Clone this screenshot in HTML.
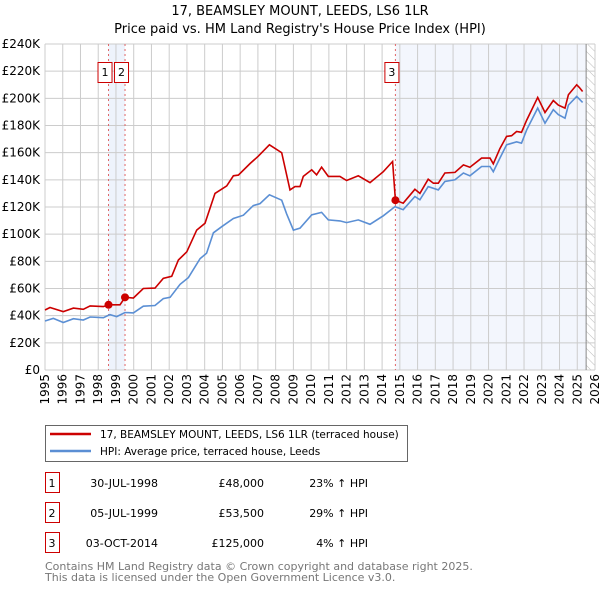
<!DOCTYPE html>
<html><head><meta charset="utf-8"><style>
body{margin:0;background:#fff;font-family:"DejaVu Sans","Liberation Sans",sans-serif;}
svg text{font-family:"DejaVu Sans","Liberation Sans",sans-serif;}
</style></head><body>
<svg id="chart" width="600" height="590" viewBox="0 0 600 590" xmlns="http://www.w3.org/2000/svg">
<defs><pattern id="hatch" width="6" height="6" patternUnits="userSpaceOnUse" patternTransform="rotate(-45)"><line x1="0" y1="0" x2="0" y2="6" stroke="#bbb" stroke-width="1"/></pattern></defs>
<text x="300" y="15" text-anchor="middle" font-size="13">17, BEAMSLEY MOUNT, LEEDS, LS6 1LR</text>
<text x="300" y="33" text-anchor="middle" font-size="13">Price paid vs. HM Land Registry's House Price Index (HPI)</text>
<g id="plot"></g>
<g>
<rect x="45.5" y="425.5" width="362" height="36" fill="#fff" stroke="#666"/>
<line x1="50" y1="434" x2="91" y2="434" stroke="#cc0000" stroke-width="2.5"/>
<text x="100" y="438" font-size="10.5">17, BEAMSLEY MOUNT, LEEDS, LS6 1LR (terraced house)</text>
<line x1="50" y1="451" x2="91" y2="451" stroke="#5b8fd4" stroke-width="2.5"/>
<text x="100" y="455" font-size="10.5">HPI: Average price, terraced house, Leeds</text>
</g>
<g id="table" font-size="11"></g>
<text x="45" y="570" font-size="11" fill="#777">Contains HM Land Registry data © Crown copyright and database right 2025.</text>
<text x="45" y="581" font-size="11" fill="#777">This data is licensed under the Open Government Licence v3.0.</text>
</svg>
<script>
const yTicks=[0,20,40,60,80,100,120,140,160,180,200,220,240];
const yTickLabels=["£0","£20K","£40K","£60K","£80K","£100K","£120K","£140K","£160K","£180K","£200K","£220K","£240K"];
const xYears=[1995,1996,1997,1998,1999,2000,2001,2002,2003,2004,2005,2006,2007,2008,2009,2010,2011,2012,2013,2014,2015,2016,2017,2018,2019,2020,2021,2022,2023,2024,2025,2026];
const hpiYears=[1995.0,1995.47,1996.03,1996.6,1997.16,1997.54,1998.29,1998.66,1999.04,1999.51,1999.98,2000.54,2001.2,2001.67,2002.05,2002.61,2003.08,2003.74,2004.11,2004.49,2004.96,2005.62,2006.18,2006.74,2007.12,2007.65,2008.34,2008.62,2009.0,2009.37,2010.03,2010.59,2010.97,2011.62,2012.0,2012.66,2013.32,2014.07,2014.73,2015.19,2015.85,2016.13,2016.6,2017.17,2017.54,2018.11,2018.58,2018.95,2019.61,2020.08,2020.27,2020.64,2021.02,2021.58,2021.86,2022.15,2022.77,2023.18,2023.65,2023.93,2024.31,2024.5,2024.97,2025.3];
const hpiValues=[36.1,38,35,37.8,36.8,39,38.5,40.8,39.3,42.3,42,47,47.5,52.6,53.5,63,68,82,86,101,105.5,111.5,114,121,122.5,129,125,115,103,104.4,114.2,116,110.5,109.8,108.5,110.5,107.3,113.5,120.3,118,127.7,125.3,135,132.6,138.8,140,145,143,149.8,149.8,146,156,165.8,168,167,176.8,192.8,181.7,191.6,188,185.4,195,201.4,197];
const priceYears=[1995.0,1995.28,1996.03,1996.6,1997.16,1997.54,1998.29,1998.58,1999.23,1999.51,1999.98,2000.54,2001.2,2001.67,2002.14,2002.52,2002.99,2003.55,2004.02,2004.58,2005.24,2005.62,2005.9,2006.56,2007.03,2007.65,2008.34,2008.81,2009.09,2009.37,2009.56,2010.03,2010.31,2010.59,2010.97,2011.62,2012.0,2012.66,2013.32,2014.07,2014.59,2014.75,2015.19,2015.85,2016.13,2016.6,2016.89,2017.17,2017.54,2018.11,2018.58,2018.95,2019.61,2020.08,2020.27,2020.64,2021.02,2021.3,2021.58,2021.86,2022.15,2022.77,2023.18,2023.65,2023.93,2024.31,2024.5,2024.97,2025.12,2025.3];
const priceValues=[44.2,46,43,45.6,44.7,47.2,46.7,48,48,53.5,53,60,60.3,67.5,69,81,87,103,108,130,135.5,143,143.5,152,157.5,165.8,160,132.6,135,135,142.5,147.4,143.7,149.3,142.5,142.5,139.5,143,138,146,153.5,125,122.8,133,130,140.5,137.5,137.5,145,145.5,151,149.3,156,156,151.8,163,172,172.5,175.6,175,184,200.7,189.6,198.4,195,192.8,202.6,210,208,205];
const saleYears=[1998.58,1999.51,2014.75];
const saleValues=[48,53.5,125];
const saleLabels=["1","2","3"];
const saleDates=["30-JUL-1998","05-JUL-1999","03-OCT-2014"];
const salePrices=["£48,000","£53,500","£125,000"];
const saleHpi=["23% ↑ HPI","29% ↑ HPI","4% ↑ HPI"];
const dataEndYear=2025.5;

const NS="http://www.w3.org/2000/svg";
const L=45,R=595,T=44,B=370;
const x=y=>L+(y-1995)/(2026-1995)*(R-L);
const yv=v=>B-v/240*(B-T);
function mk(tag,attrs,parent){const e=document.createElementNS(NS,tag);for(const k in attrs)e.setAttribute(k,attrs[k]);parent.appendChild(e);return e;}
const plot=document.getElementById('plot');
let s=mk('rect',{x:x(saleYears[0]),y:T,width:x(saleYears[1])-x(saleYears[0]),height:B-T,fill:'#eef3fc'},plot);


s=mk('rect',{x:x(saleYears[2]),y:T,width:x(dataEndYear)-x(saleYears[2]),height:B-T,fill:'#f3f6fd'},plot);


s=mk('rect',{x:x(dataEndYear),y:T,width:R-x(dataEndYear),height:B-T,fill:'url(#hatch)'},plot);


yTicks.forEach((t,i)=>{
  const g=mk('line',{x1:L,x2:R,y1:yv(t),y2:yv(t),stroke:'#ccc','stroke-width':1},plot);
  
  
  const tx=mk('text',{x:L-5,y:yv(t)+4,'text-anchor':'end','font-size':12},plot);
  tx.textContent=yTickLabels[i];
  
  
});
xYears.forEach(yr=>{
  const g=mk('line',{x1:x(yr),x2:x(yr),y1:T,y2:B,stroke:'#ccc','stroke-width':1},plot);
  
  
  const tx=mk('text',{x:0,y:0,'text-anchor':'end','font-size':12,transform:`translate(${x(yr)+4},${B+4}) rotate(-90)`},plot);
  tx.textContent=yr;
  
  
});
const ax=mk('line',{x1:x(dataEndYear),x2:x(dataEndYear),y1:T,y2:B,stroke:'#888','stroke-width':1},plot);


saleYears.forEach((yr,i)=>{
  const l=mk('line',{x1:x(yr),x2:x(yr),y1:T,y2:B,stroke:'#e06666','stroke-width':1,'stroke-dasharray':'2,3'},plot);
  
  
});
function path(xs,vs){return xs.map((a,i)=>(i?'L':'M')+x(a).toFixed(1)+','+yv(vs[i]).toFixed(1)).join('');}
const hp=mk('path',{d:path(hpiYears,hpiValues),fill:'none',stroke:'#5b8fd4','stroke-width':1.6},plot);


const pp=mk('path',{d:path(priceYears,priceValues),fill:'none',stroke:'#cc0000','stroke-width':1.6},plot);


saleYears.forEach((yr,i)=>{
  const c=mk('circle',{cx:x(yr),cy:yv(saleValues[i]),r:4,fill:'#cc0000'},plot);
  
  
  const b=mk('rect',{x:x(yr)-10.5,y:62.5,width:14,height:20,fill:'#fff',stroke:'#cc0000'},plot);
  
  
  const t=mk('text',{x:x(yr)-3.5,y:76,'text-anchor':'middle','font-size':11},plot);
  t.textContent=saleLabels[i];
  
  
});
const tb=document.getElementById('table');
saleLabels.forEach((lab,i)=>{
  const cy=483+i*30;
  const b=mk('rect',{x:45.5,y:cy-10.5,width:14,height:20,fill:'#fff',stroke:'#cc0000'},tb);
  
  
  const cells=[[52,'middle',lab],[158,'end',saleDates[i]],[264,'end',salePrices[i]],[368,'end',saleHpi[i]]];
  cells.forEach(c=>{
    const t=mk('text',{x:c[0],y:cy+4,'text-anchor':c[1]},tb);
    t.textContent=c[2];
    
    
  });
});
</script>
</body></html>
